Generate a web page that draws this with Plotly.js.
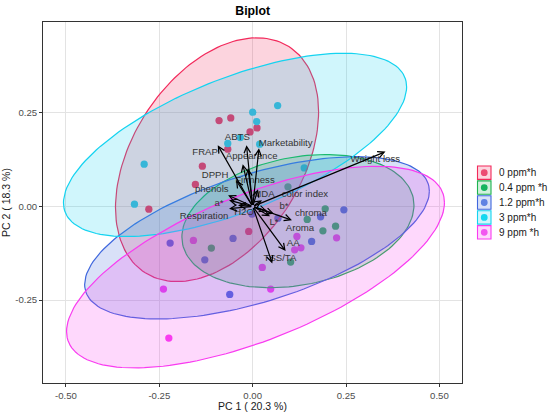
<!DOCTYPE html>
<html>
<head>
<meta charset="utf-8">
<script src="https://cdn.plot.ly/plotly-3.0.1.min.js"></script>
<style>html,body{margin:0;padding:0;background:#fff;}#chart{width:550px;height:412px;}</style>
</head>
<body>
<div id="chart"></div>
<script>
// ---------------- data ----------------
const groups = ['0 ppm*h', '0.4 ppm *h', '1.2 ppm*h', '3 ppm*h', '9 ppm *h'];

// individuals (PC1, PC2) per group
const pc1_g0  = [-0.0901, -0.0588, -0.0072, 0.0115, -0.0668, -0.1348, -0.1535, -0.2781, -0.0107];
const pc2_g0  = [ 0.2295,  0.2365,  0.1991, 0.2098,  0.1529,  0.1076,  0.0587, -0.0072, -0.0667];
const pc1_g04 = [-0.1107, 0.0944, 0.1941, 0.1460, 0.2219, 0.1880, 0.1016];
const pc2_g04 = [-0.1113, 0.0523, -0.0064, -0.0347, -0.0526, -0.0651, -0.1487];
const pc1_g12 = [-0.2211, -0.0527, -0.1283, -0.0615, 0.1578, 0.1818, 0.2441, -0.0019, 0.0676];
const pc2_g12 = [-0.0979, -0.0854, -0.1425, -0.2349, -0.0934, -0.0278, -0.0091, -0.0205, -0.0312];
const pc1_g3  = [0.0000, 0.0668, 0.0107, -0.0668, -0.0332, 0.0187, -0.2906, 0.1380, -0.3166];
const pc2_g3  = [0.2517, 0.2695, 0.2268, 0.1681, 0.1841, 0.1663, 0.1129, 0.1030, 0.0061];
const pc1_g9  = [-0.1588, -0.2390, -0.2246, 0.0257, 0.0481, 0.1184, 0.2246, 0.1123, 0.1291];
const pc2_g9  = [-0.0907, -0.2207, -0.3515, -0.1628, -0.2207, -0.0801, -0.0838, -0.1158, -0.1105];

// ellipses per group: centre, half extents along PC1 / PC2, correlation
const ellCX = [-0.0955, 0.1211, 0.0115, -0.0473, 0.0075];
const ellCY = [ 0.1249, -0.0392, -0.0838, 0.1644, -0.1620];
const ellHX = [ 0.2719, 0.3107, 0.4615, 0.4594, 0.5059];
const ellHY = [ 0.3256, 0.1780, 0.2167, 0.2447, 0.2693];
const ellR  = [ 0.393, 0.239, 0.575, 0.632, 0.639];

// variables (loadings arrows)
const varNames = ['FRAP','ABTS','Marketability','Appearance','Firmness','DPPH','phenols','MDA','color index','a*','H2O','Respiration','b*','chroma','L*','Aroma','AA','TSS/TA','Weight loss'];
const varPC1 = [-0.0936, -0.0166, 0.0168, -0.0267, -0.0126, -0.0447, -0.0660, 0.0142, 0.0249, -0.0633, -0.0393, -0.0633, 0.0382, 0.0570, 0.0463, 0.1051, 0.0882, 0.0524, 0.3556];
const varPC2 = [ 0.1636,  0.1636, 0.1556,  0.1129,  0.1022,  0.0702,  0.0301, 0.0462, 0.0168,  0.0168,  0.0035, -0.0059, -0.0125, -0.0192, -0.0259, -0.0366, -0.1193, -0.1521, 0.1465];
const labPC1 = [-0.1275, -0.0412, 0.0882, -0.0027, 0.0061, -0.1008, -0.1096, 0.0302, 0.1398, -0.0901, -0.0233, -0.1302, 0.0837, 0.1559, 0.0570, 0.1265, 0.1086, 0.0730, 0.3283];
const labPC2 = [ 0.1430,  0.1831, 0.1681,  0.1324, 0.0683,  0.0835,  0.0462, 0.0328, 0.0328,  0.0080, -0.0160, -0.0278, -0.0011, -0.0187, -0.0438, -0.0587, -0.0987, -0.1388, 0.1254];

const xTicks = [-0.50, -0.25, 0.00, 0.25, 0.50];
const yTicks = [-0.25, 0.00, 0.25];
const xTickText = ['-0.50', '-0.25', '0.00', '0.25', '0.50'];
const yTickText = ['-0.25', '0.00', '0.25'];

// ---------------- styling ----------------
const colors = ['#F2295B', '#1DB34F', '#3F67DD', '#14D3F0', '#F93BF0'];
const dotColors = ['#EC4A72', '#16B45E', '#5F82E2', '#14D8F0', '#F257F0'];
function rgba(hex, a) {
  const n = parseInt(hex.slice(1), 16);
  return 'rgba(' + ((n >> 16) & 255) + ',' + ((n >> 8) & 255) + ',' + (n & 255) + ',' + a + ')';
}
const FONT = 'Liberation Sans, Arial, sans-serif';
const W = 550, H = 412, mL = 43, mR = 88, mT = 22, mB = 29;
const plotW = W - mL - mR, plotH = H - mT - mB;
const pxX = px => (px - mL) / plotW;
const pxY = py => (H - mB - py) / plotH;

const xs = [pc1_g0, pc1_g04, pc1_g12, pc1_g3, pc1_g9];
const ys = [pc2_g0, pc2_g04, pc2_g12, pc2_g3, pc2_g9];

const traces = [];
// points first (ellipses are drawn over them)
groups.forEach((g, i) => {
  traces.push({
    type: 'scatter', mode: 'markers', x: xs[i], y: ys[i], name: g,
    showlegend: false, hoverinfo: 'skip',
    marker: {size: 7.3, color: colors[i], line: {width: 0}}
  });
});
// ellipses
function ellipse(i) {
  const ex = [], ey = [];
  const s = Math.sqrt(1 - ellR[i] * ellR[i]);
  for (let k = 0; k <= 160; k++) {
    const t = 2 * Math.PI * k / 160;
    ex.push(ellCX[i] + ellHX[i] * Math.cos(t));
    ey.push(ellCY[i] + ellHY[i] * (ellR[i] * Math.cos(t) + s * Math.sin(t)));
  }
  return {ex, ey};
}
groups.forEach((g, i) => {
  const e = ellipse(i);
  traces.push({
    type: 'scatter', mode: 'lines', x: e.ex, y: e.ey, fill: 'toself',
    fillcolor: rgba(colors[i], 0.2), line: {color: colors[i], width: 1.2},
    showlegend: false, hoverinfo: 'skip'
  });
});
// variable labels
traces.push({
  type: 'scatter', mode: 'text', x: labPC1, y: labPC2, text: varNames,
  textposition: 'middle center', showlegend: false, hoverinfo: 'skip',
  textfont: {family: FONT, size: 9.6, color: '#333333'}
});

const annotations = [];
varNames.forEach((v, i) => {
  annotations.push({
    x: varPC1[i], y: varPC2[i], ax: 0, ay: 0, xref: 'x', yref: 'y', axref: 'x', ayref: 'y',
    text: '', showarrow: true, arrowhead: 5, arrowsize: 1.05, arrowwidth: 1.2,
    arrowcolor: '#000', standoff: 0, startstandoff: 0
  });
});

// custom legend (ggplot-style keys)
const shapes = [];
const rowY0 = 172.7, rowStep = 14.9;
groups.forEach((g, i) => {
  const cy = rowY0 + i * rowStep;
  shapes.push({
    type: 'rect', xref: 'paper', yref: 'paper',
    x0: pxX(477.5), x1: pxX(491), y0: pxY(cy + 6.7), y1: pxY(cy - 6.7),
    fillcolor: rgba(colors[i], 0.2), line: {color: colors[i], width: 1.1}
  });
  shapes.push({
    type: 'circle', xref: 'paper', yref: 'paper',
    x0: pxX(484.25 - 3.4), x1: pxX(484.25 + 3.4), y0: pxY(cy + 3.4), y1: pxY(cy - 3.4),
    fillcolor: dotColors[i], line: {width: 0}
  });
  annotations.push({
    xref: 'paper', yref: 'paper', x: pxX(496.5), y: pxY(cy), xanchor: 'left', yanchor: 'middle',
    text: g, showarrow: false, font: {family: FONT, size: 10, color: '#1a1a1a'}
  });
});

const layout = {
  width: W, height: H,
  margin: {l: mL, r: mR, t: mT, b: mB, pad: 0},
  paper_bgcolor: '#fff', plot_bgcolor: '#fff',
  showlegend: false,
  font: {family: FONT, color: '#1a1a1a'},
  title: {text: '<b>Biplot</b>', x: pxX(252.7), xref: 'paper', xanchor: 'center', y: 1 - 11 / H, yanchor: 'middle',
          font: {family: FONT, size: 12.3, color: '#000'}},
  xaxis: {
    range: [-0.5615, 0.5604], tickvals: xTicks, ticktext: xTickText,
    showgrid: true, gridcolor: '#e3e3e3', gridwidth: 1, zeroline: false,
    showline: true, mirror: true, linecolor: '#333', linewidth: 1,
    ticks: 'outside', ticklen: 3, tickcolor: '#333', tickwidth: 1,
    tickfont: {family: FONT, size: 9.6, color: '#4d4d4d'},
    title: {text: 'PC 1 ( 20.3 %)', standoff: 1, font: {family: FONT, size: 10.5, color: '#1a1a1a'}},
    automargin: false, fixedrange: true
  },
  yaxis: {
    range: [-0.4716, 0.4927], tickvals: yTicks, ticktext: yTickText,
    showgrid: true, gridcolor: '#e3e3e3', gridwidth: 1, zeroline: false,
    showline: true, mirror: true, linecolor: '#333', linewidth: 1,
    ticks: 'outside', ticklen: 3, tickcolor: '#333', tickwidth: 1,
    tickfont: {family: FONT, size: 9.6, color: '#4d4d4d'},
    title: {text: 'PC 2 ( 18.3 %)', standoff: 5, font: {family: FONT, size: 10.5, color: '#1a1a1a'}},
    automargin: false, fixedrange: true
  },
  annotations: annotations,
  shapes: shapes
};

Plotly.newPlot('chart', traces, layout, {displayModeBar: false, staticPlot: true});
</script>
</body>
</html>
